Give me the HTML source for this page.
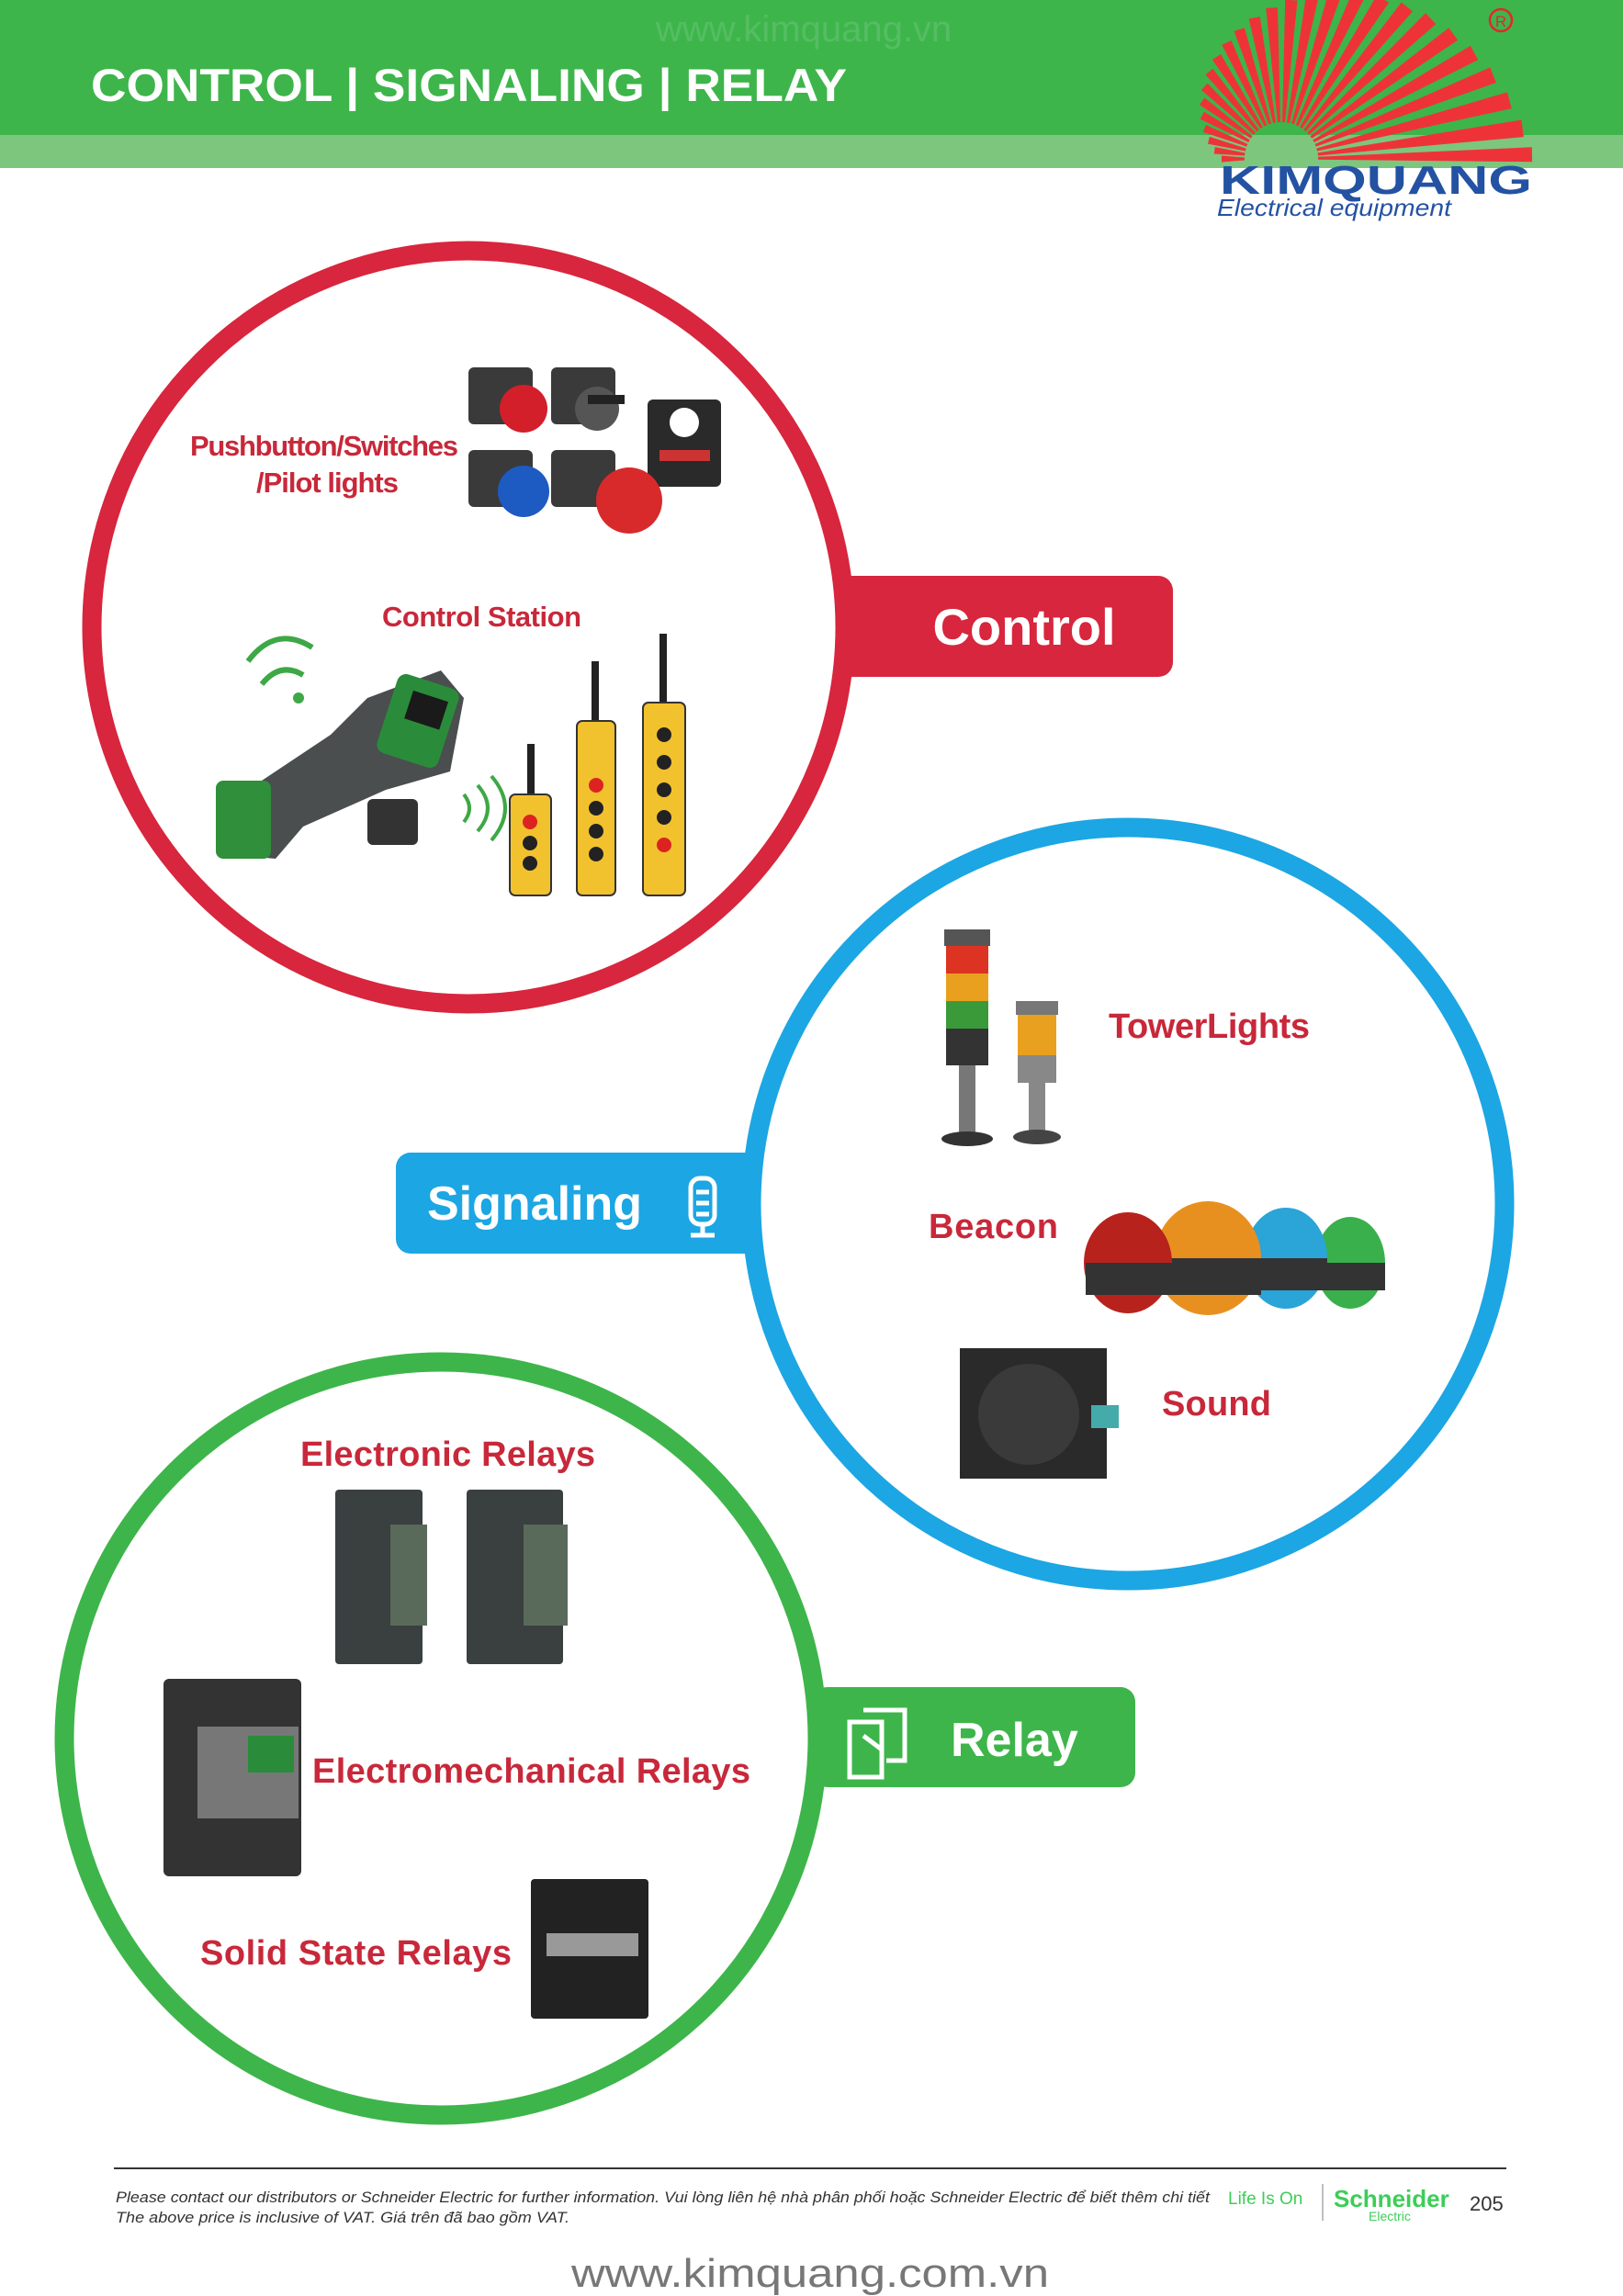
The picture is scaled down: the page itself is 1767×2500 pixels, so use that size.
<!DOCTYPE html>
<html><head><meta charset="utf-8"><style>
html,body{margin:0;padding:0;background:#fff}
svg{display:block}
text{font-family:"Liberation Sans",Arial,sans-serif}
</style></head><body>
<svg width="1767" height="2500" viewBox="0 0 1767 2500" xmlns="http://www.w3.org/2000/svg">
<!-- header -->
<rect x="0" y="0" width="1767" height="147" fill="#3db54a"/>
<rect x="0" y="147" width="1767" height="36" fill="#7dc67e"/>
<text x="99" y="110" font-size="50" font-weight="bold" fill="#fff" textLength="823" lengthAdjust="spacingAndGlyphs">CONTROL | SIGNALING | RELAY</text>
<text x="875" y="45" font-size="40" fill="#5cc06a" text-anchor="middle" opacity="0.8">www.kimquang.vn</text>
<!-- logo -->
<g transform="translate(1395 173)" fill="#ee3338">
<polygon transform="rotate(-180)" points="40,-1.5 40,1.5 65,3.5 65,-3.5"/>
<polygon transform="rotate(-172.8)" points="40,-1.5 40,1.5 73.3,3.7 73.3,-3.7"/>
<polygon transform="rotate(-165.6)" points="40,-1.5 40,1.5 81.6,4 81.6,-4"/>
<polygon transform="rotate(-158.4)" points="40,-1.5 40,1.5 90,4.2 90,-4.2"/>
<polygon transform="rotate(-151.2)" points="40,-1.5 40,1.5 98.3,4.5 98.3,-4.5"/>
<polygon transform="rotate(-144)" points="40,-1.5 40,1.5 106.6,4.7 106.6,-4.7"/>
<polygon transform="rotate(-136.8)" points="40,-1.5 40,1.5 114.9,5 114.9,-5"/>
<polygon transform="rotate(-129.6)" points="40,-1.5 40,1.5 123.2,5.2 123.2,-5.2"/>
<polygon transform="rotate(-122.4)" points="40,-1.5 40,1.5 131.6,5.5 131.6,-5.5"/>
<polygon transform="rotate(-115.2)" points="40,-1.5 40,1.5 139.9,5.7 139.9,-5.7"/>
<polygon transform="rotate(-108)" points="40,-1.5 40,1.5 148.2,6 148.2,-6"/>
<polygon transform="rotate(-100.8)" points="40,-1.5 40,1.5 156.5,6.2 156.5,-6.2"/>
<polygon transform="rotate(-93.6)" points="40,-1.5 40,1.5 164.8,6.4 164.8,-6.4"/>
<polygon transform="rotate(-86.4)" points="40,-1.5 40,1.5 173.2,6.7 173.2,-6.7"/>
<polygon transform="rotate(-79.2)" points="40,-1.5 40,1.5 181.5,6.9 181.5,-6.9"/>
<polygon transform="rotate(-72)" points="40,-1.5 40,1.5 189.8,7.2 189.8,-7.2"/>
<polygon transform="rotate(-64.8)" points="40,-1.5 40,1.5 198.1,7.4 198.1,-7.4"/>
<polygon transform="rotate(-57.6)" points="40,-1.5 40,1.5 206.4,7.7 206.4,-7.7"/>
<polygon transform="rotate(-50.4)" points="40,-1.5 40,1.5 214.8,7.9 214.8,-7.9"/>
<polygon transform="rotate(-43.2)" points="40,-1.5 40,1.5 223.1,8.2 223.1,-8.2"/>
<polygon transform="rotate(-36)" points="40,-1.5 40,1.5 231.4,8.4 231.4,-8.4"/>
<polygon transform="rotate(-28.8)" points="40,-1.5 40,1.5 239.7,8.7 239.7,-8.7"/>
<polygon transform="rotate(-21.6)" points="40,-1.5 40,1.5 248,8.9 248,-8.9"/>
<polygon transform="rotate(-14.4)" points="40,-1.5 40,1.5 256.4,9.2 256.4,-9.2"/>
<polygon transform="rotate(-7.2)" points="40,-1.5 40,1.5 264.7,9.4 264.7,-9.4"/>
<polygon transform="rotate(-1)" points="40,-1.5 40,1.5 273,8 273,-8"/>
</g>
<circle cx="1634" cy="22" r="12" fill="none" stroke="#e5262d" stroke-width="2.5"/>
<text x="1634" y="29" font-size="17" fill="#e5262d" text-anchor="middle">R</text>
<text x="1328" y="211" font-size="44" font-weight="bold" fill="#2452a3" textLength="340" lengthAdjust="spacingAndGlyphs">KIMQUANG</text>
<text x="1325" y="235" font-size="26" font-style="italic" fill="#2452a3" textLength="255" lengthAdjust="spacingAndGlyphs">Electrical equipment</text>

<!-- CONTROL -->
<rect x="905" y="627" width="372" height="110" rx="16" fill="#d7263d"/>
<circle cx="510" cy="683" r="410" fill="#fff" stroke="#d7263d" stroke-width="21"/>
<text x="1115" y="702" font-size="56" font-weight="bold" fill="#fff" text-anchor="middle">Control</text>
<g font-size="31" font-weight="bold" fill="#c8283a" lengthAdjust="spacingAndGlyphs">
<text x="207" y="496" textLength="292">Pushbutton/Switches</text>
<text x="279" y="536" textLength="155">/Pilot lights</text>
<text x="416" y="682" textLength="217">Control Station</text>
</g>
<!-- pushbuttons -->
<g>
<rect x="510" y="400" width="70" height="62" rx="6" fill="#3a3a3a"/><circle cx="570" cy="445" r="26" fill="#d21f2a"/>
<rect x="600" y="400" width="70" height="62" rx="6" fill="#3a3a3a"/><circle cx="650" cy="445" r="24" fill="#555"/><rect x="640" y="430" width="40" height="10" fill="#222"/>
<rect x="705" y="435" width="80" height="95" rx="6" fill="#2a2a2a"/><circle cx="745" cy="460" r="16" fill="#fff"/><rect x="718" y="490" width="55" height="12" fill="#c33"/>
<rect x="510" y="490" width="70" height="62" rx="6" fill="#3a3a3a"/><circle cx="570" cy="535" r="28" fill="#1d5bc2"/>
<rect x="600" y="490" width="70" height="62" rx="6" fill="#3a3a3a"/><circle cx="685" cy="545" r="36" fill="#d82a2a"/>
</g>
<!-- handheld -->
<path d="M270 720 q30 -40 70 -15" fill="none" stroke="#3da845" stroke-width="6"/>
<path d="M285 745 q20 -25 45 -10" fill="none" stroke="#3da845" stroke-width="6"/>
<circle cx="325" cy="760" r="6" fill="#3da845"/>
<path d="M240 880 L360 800 L400 760 L480 730 L505 760 L490 840 L420 860 L330 900 L300 935 L245 930 Z" fill="#4a4e4e"/>
<rect x="420" y="740" width="70" height="90" rx="10" fill="#2a8c3a" transform="rotate(18 455 785)"/>
<rect x="440" y="755" width="40" height="32" fill="#1a1a1a" transform="rotate(18 455 785)"/>
<rect x="235" y="850" width="60" height="85" rx="8" fill="#2f8f3a"/>
<rect x="400" y="870" width="55" height="50" rx="6" fill="#333"/>
<path d="M505 895 q12 -15 0 -30 M520 905 q22 -25 0 -50 M535 915 q30 -35 0 -70" fill="none" stroke="#3da845" stroke-width="4"/>
<!-- pendants -->
<g>
<line x1="578" y1="810" x2="578" y2="870" stroke="#222" stroke-width="8"/>
<rect x="555" y="865" width="45" height="110" rx="6" fill="#f2c12e" stroke="#333" stroke-width="2"/>
<circle cx="577" cy="895" r="8" fill="#d22"/><circle cx="577" cy="918" r="8" fill="#222"/><circle cx="577" cy="940" r="8" fill="#222"/>
<line x1="648" y1="720" x2="648" y2="790" stroke="#222" stroke-width="8"/>
<rect x="628" y="785" width="42" height="190" rx="6" fill="#f2c12e" stroke="#333" stroke-width="2"/>
<circle cx="649" cy="855" r="8" fill="#d22"/><circle cx="649" cy="880" r="8" fill="#222"/><circle cx="649" cy="905" r="8" fill="#222"/><circle cx="649" cy="930" r="8" fill="#222"/>
<line x1="722" y1="690" x2="722" y2="770" stroke="#222" stroke-width="8"/>
<rect x="700" y="765" width="46" height="210" rx="6" fill="#f2c12e" stroke="#333" stroke-width="2"/>
<circle cx="723" cy="800" r="8" fill="#222"/><circle cx="723" cy="830" r="8" fill="#222"/><circle cx="723" cy="860" r="8" fill="#222"/><circle cx="723" cy="890" r="8" fill="#222"/><circle cx="723" cy="920" r="8" fill="#d22"/>
</g>

<!-- SIGNALING -->
<rect x="431" y="1255" width="400" height="110" rx="16" fill="#1ca6e3"/>
<circle cx="1228" cy="1311" r="410" fill="#fff" stroke="#1ca6e3" stroke-width="21"/>
<text x="465" y="1328" font-size="52" font-weight="bold" fill="#fff">Signaling</text>
<g fill="none" stroke="#fff" stroke-width="5"><rect x="752" y="1283" width="26" height="50" rx="10"/><line x1="758" y1="1298" x2="772" y2="1298"/><line x1="758" y1="1310" x2="772" y2="1310"/><line x1="758" y1="1322" x2="772" y2="1322"/><line x1="765" y1="1333" x2="765" y2="1343"/><line x1="752" y1="1345" x2="778" y2="1345"/></g>
<g font-size="38" font-weight="bold" fill="#c8283a" lengthAdjust="spacingAndGlyphs">
<text x="1207" y="1130" textLength="219">TowerLights</text>
<text x="1011" y="1348" textLength="141">Beacon</text>
<text x="1265" y="1541" textLength="119">Sound</text>
</g>
<!-- tower lights -->
<rect x="1028" y="1012" width="50" height="18" fill="#555"/>
<rect x="1030" y="1030" width="46" height="30" fill="#d32"/><rect x="1030" y="1060" width="46" height="30" fill="#e9a01f"/><rect x="1030" y="1090" width="46" height="30" fill="#3a9a3a"/>
<rect x="1030" y="1120" width="46" height="40" fill="#333"/><rect x="1044" y="1160" width="18" height="75" fill="#777"/><ellipse cx="1053" cy="1240" rx="28" ry="8" fill="#333"/>
<rect x="1106" y="1090" width="46" height="15" fill="#777"/><rect x="1108" y="1105" width="42" height="22" fill="#e9a01f"/><rect x="1108" y="1127" width="42" height="22" fill="#e9a01f"/><rect x="1108" y="1149" width="42" height="30" fill="#888"/>
<rect x="1120" y="1179" width="18" height="55" fill="#888"/><ellipse cx="1129" cy="1238" rx="26" ry="8" fill="#444"/>
<!-- beacons -->
<ellipse cx="1470" cy="1375" rx="38" ry="50" fill="#3ab04c"/><rect x="1432" y="1375" width="76" height="30" fill="#333"/>
<ellipse cx="1400" cy="1370" rx="45" ry="55" fill="#2ba4d8"/><rect x="1355" y="1370" width="90" height="35" fill="#333"/>
<ellipse cx="1315" cy="1370" rx="58" ry="62" fill="#e8901f"/><rect x="1257" y="1370" width="116" height="40" fill="#333"/>
<ellipse cx="1228" cy="1375" rx="48" ry="55" fill="#b8221d"/><rect x="1182" y="1375" width="96" height="35" fill="#333"/>
<!-- sound -->
<rect x="1045" y="1468" width="160" height="142" fill="#2a2a2a"/><circle cx="1120" cy="1540" r="55" fill="#3a3a3a"/>
<rect x="1188" y="1530" width="30" height="25" fill="#4aa"/>

<!-- RELAY -->
<rect x="885" y="1837" width="351" height="109" rx="16" fill="#3db54a"/>
<circle cx="480" cy="1893" r="410" fill="#fff" stroke="#3db54a" stroke-width="21"/>
<g fill="none" stroke="#fff" stroke-width="5"><path d="M940 1862 h45 v55 h-20"/><path d="M925 1875 h35 v60 h-35 z"/><line x1="940" y1="1890" x2="960" y2="1905"/></g>
<text x="1035" y="1912" font-size="52" font-weight="bold" fill="#fff">Relay</text>
<g font-size="38" font-weight="bold" fill="#c8283a" lengthAdjust="spacingAndGlyphs">
<text x="327" y="1596" textLength="321">Electronic Relays</text>
<text x="340" y="1941" textLength="477">Electromechanical Relays</text>
<text x="218" y="2139" textLength="339">Solid State Relays</text>
</g>
<!-- electronic relays -->
<rect x="365" y="1622" width="95" height="190" rx="4" fill="#3a3f40"/><rect x="425" y="1660" width="40" height="110" fill="#5a6a5a"/>
<rect x="508" y="1622" width="105" height="190" rx="4" fill="#3a3f40"/><rect x="570" y="1660" width="48" height="110" fill="#5a6a5a"/>
<!-- electromechanical -->
<rect x="178" y="1828" width="150" height="215" rx="6" fill="#333"/><rect x="215" y="1880" width="110" height="100" fill="#777"/><rect x="270" y="1890" width="50" height="40" fill="#2a8c3a"/>
<!-- SSR -->
<rect x="578" y="2046" width="128" height="152" rx="4" fill="#222"/><rect x="595" y="2105" width="100" height="25" fill="#999"/>

<!-- footer -->
<line x1="124" y1="2361" x2="1640" y2="2361" stroke="#333" stroke-width="2"/>
<text x="126" y="2398" font-size="17" font-style="italic" fill="#333" textLength="1191" lengthAdjust="spacingAndGlyphs">Please contact our distributors or Schneider Electric for further information. Vui lòng liên hệ nhà phân phối hoặc Schneider Electric để biết thêm chi tiết</text>
<text x="126" y="2420" font-size="17" font-style="italic" fill="#333" textLength="494" lengthAdjust="spacingAndGlyphs">The above price is inclusive of VAT. Giá trên đã bao gồm VAT.</text>
<text x="1337" y="2400" font-size="19" fill="#3dcd58">Life Is On</text>
<line x1="1440" y1="2378" x2="1440" y2="2418" stroke="#aaa" stroke-width="1.5"/>
<text x="1452" y="2403" font-size="26" font-weight="bold" fill="#3dcd58">Schneider</text>
<text x="1490" y="2418" font-size="14" fill="#3dcd58">Electric</text>
<text x="1600" y="2407" font-size="22" fill="#333">205</text>
<text x="622" y="2490" font-size="44" fill="#777" textLength="520" lengthAdjust="spacingAndGlyphs">www.kimquang.com.vn</text>
</svg>
</body></html>
